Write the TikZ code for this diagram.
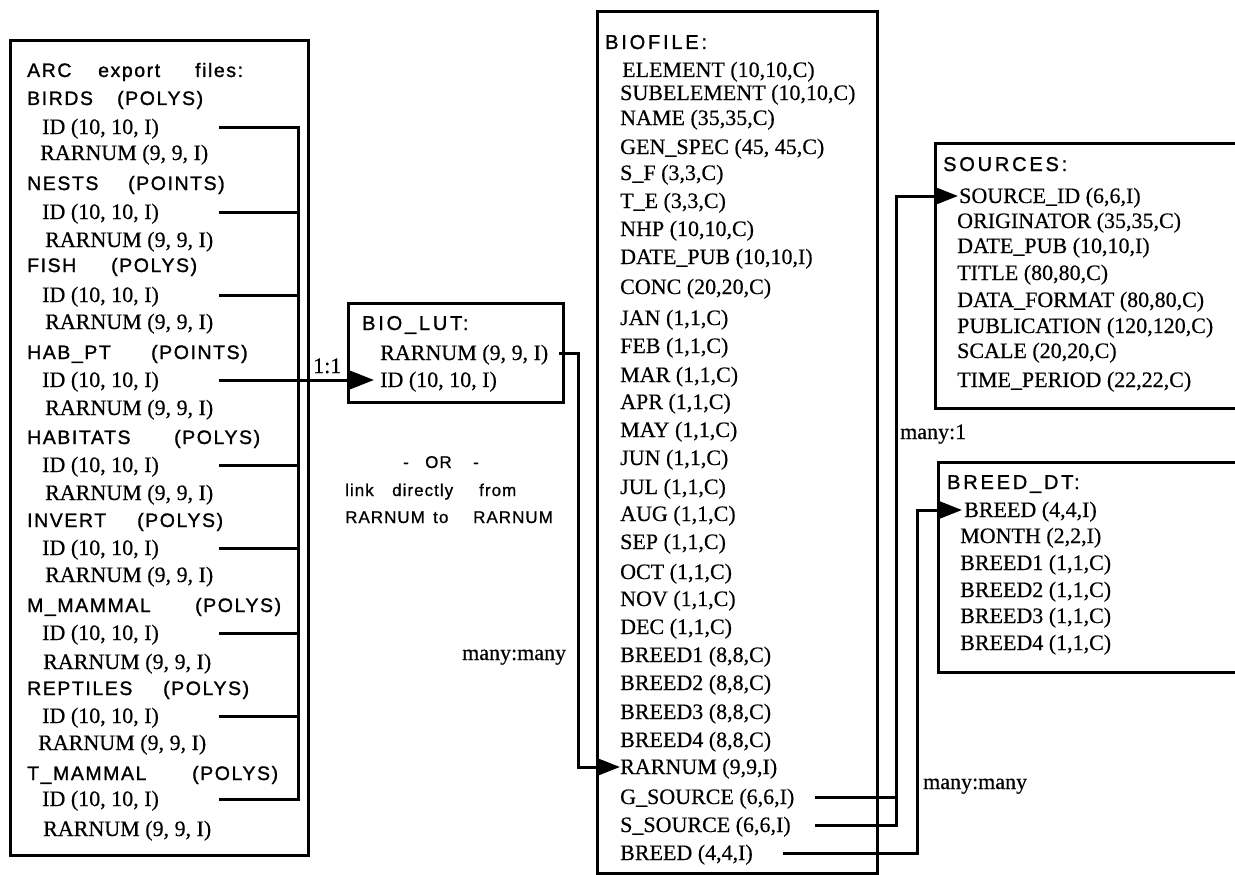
\documentclass[tikz,border=0pt]{standalone}
\usepackage{fontspec}
\setmainfont[FakeBold=0.4]{Liberation Serif}
\newfontfamily\hdrfont[LetterSpace=8,FakeBold=1.2]{Liberation Sans}
\newfontfamily\ttlfont[LetterSpace=14,FakeBold=1.2]{Liberation Sans}
\newfontfamily\orfont[LetterSpace=6,FakeBold=0.8]{Liberation Sans}
\usetikzlibrary{arrows.meta}
\tikzset{
  frame/.style={draw, line width=3pt, inner sep=0pt, outer sep=0pt},
  fld/.style={anchor=west, inner sep=0pt, font=\fontsize{22}{26}\selectfont, text height=14pt, text depth=0pt},
  grp/.style={anchor=west, inner sep=0pt, font=\hdrfont\fontsize{19.5}{22}\selectfont, text height=14pt, text depth=0pt},
  ttl/.style={anchor=west, inner sep=0pt, font=\ttlfont\fontsize{20}{24}\selectfont, text height=14pt, text depth=0pt},
  ortext/.style={anchor=west, inner sep=0pt, font=\orfont\fontsize{17}{20}\selectfont, text height=12pt, text depth=0pt},
  lbl/.style={anchor=west, inner sep=0pt, font=\fontsize{22}{26}\selectfont, text height=14pt, text depth=0pt},
  conn/.style={line width=3pt, line join=miter},
  arr/.style={conn, -{Triangle[length=24pt,width=18pt]}},
}
\newcommand\fieldrow[4]{\node[fld] (#1) at (#2,#3) {#4};}
\newcommand\grouprow[8]{%
  \node[grp] (#1-h) at (27,#2) {\makebox[#3pt][l]{#4}(#5)};
  \node[fld] (#1-id) at (42,#6) {ID (10, 10, I)};
  \node[fld] (#1-rar) at (#8,#7) {RARNUM (9, 9, I)};
}
\begin{document}
\begin{tikzpicture}[x=1pt,y=-1pt]
\useasboundingbox (0,0) rectangle (1235,875);
\fill[white] (0,0) rectangle (1235,875);

% ---------- left box: ARC export files ----------
\node[frame, minimum width=298pt, minimum height=814pt] (arcbox) at (159,448) {};
\node[grp] (arc-t) at (27,70) {\makebox[71pt][l]{ARC}\makebox[97pt][l]{export}files:};
\grouprow{birds}{98}{90}{BIRDS}{POLYS}{127}{153}{40}
\grouprow{nests}{183}{101}{NESTS}{POINTS}{212}{240}{45}
\grouprow{fish}{265}{84}{FISH}{POLYS}{295}{322}{45}
\grouprow{habpt}{352}{124}{HAB\_PT}{POINTS}{380}{408}{45}
\grouprow{habitats}{437}{147}{HABITATS}{POLYS}{465}{493}{45}
\grouprow{invert}{520}{110}{INVERT}{POLYS}{548}{575}{45}
\grouprow{mmammal}{605}{168}{M\_MAMMAL}{POLYS}{633}{662}{43}
\grouprow{reptiles}{688}{136}{REPTILES}{POLYS}{716}{743}{38}
\grouprow{tmammal}{773}{165}{T\_MAMMAL}{POLYS}{799}{829}{43}

\coordinate (lstart) at (219,0);
\coordinate (bus) at (298,0);
\draw[conn] (birds-id -| lstart) -- (birds-id -| bus) -- (tmammal-id -| bus) -- (tmammal-id -| lstart);
\foreach \n in {nests,fish,habitats,invert,mmammal,reptiles}
  \draw[conn] (\n-id -| lstart) -- (\n-id -| bus);

% ---------- BIO_LUT ----------
\node[frame, minimum width=215pt, minimum height=99pt] (lutbox) at (455.5,352.5) {};
\node[ttl] (lut-t) at (362,323) {BIO\_LUT:};
\fieldrow{lut-rar}{380}{353}{RARNUM (9, 9, I)}
\fieldrow{lut-id}{380}{380}{ID (10, 10, I)}
\draw[arr] (habpt-id -| lstart) -- ([xshift=-6pt]lut-id.west);
\node[lbl] (l11) at (313,366) {1:1};

% ---------- OR text ----------
\node[ortext] (or1) at (403,462) {\makebox[22pt][l]{-}\makebox[48pt][l]{OR}-};
\node[ortext] (or2) at (345,490) {\makebox[47pt][l]{link}\makebox[87pt][l]{directly}from};
\node[ortext] (or3) at (345,517) {\makebox[88pt][l]{RARNUM}\makebox[40pt][l]{to}RARNUM};

% ---------- BIOFILE ----------
\node[frame, minimum width=280pt, minimum height=861pt] (biobox) at (737,442.5) {};
\node[ttl] (bio-t) at (605,42) {BIOFILE:};
\fieldrow{bio-elem}{622}{70}{ELEMENT (10,10,C)}
\fieldrow{bio-subel}{620}{93}{SUBELEMENT (10,10,C)}
\fieldrow{bio-name}{620}{118}{NAME (35,35,C)}
\fieldrow{bio-gen}{620}{147}{GEN\_SPEC (45, 45,C)}
\fieldrow{bio-sf}{620}{173}{S\_F (3,3,C)}
\fieldrow{bio-te}{620}{201}{T\_E (3,3,C)}
\fieldrow{bio-nhp}{620}{229}{NHP (10,10,C)}
\fieldrow{bio-date}{620}{257}{DATE\_PUB (10,10,I)}
\fieldrow{bio-conc}{620}{287}{CONC (20,20,C)}
\fieldrow{bio-jan}{620}{318}{JAN (1,1,C)}
\fieldrow{bio-feb}{620}{346}{FEB (1,1,C)}
\fieldrow{bio-mar}{620}{375}{MAR (1,1,C)}
\fieldrow{bio-apr}{620}{402}{APR (1,1,C)}
\fieldrow{bio-may}{620}{430}{MAY (1,1,C)}
\fieldrow{bio-jun}{620}{458}{JUN (1,1,C)}
\fieldrow{bio-jul}{620}{487}{JUL (1,1,C)}
\fieldrow{bio-aug}{620}{514}{AUG (1,1,C)}
\fieldrow{bio-sep}{620}{542}{SEP (1,1,C)}
\fieldrow{bio-oct}{620}{572}{OCT (1,1,C)}
\fieldrow{bio-nov}{620}{599}{NOV (1,1,C)}
\fieldrow{bio-dec}{620}{627}{DEC (1,1,C)}
\fieldrow{bio-b1}{620}{655}{BREED1 (8,8,C)}
\fieldrow{bio-b2}{620}{683}{BREED2 (8,8,C)}
\fieldrow{bio-b3}{620}{712}{BREED3 (8,8,C)}
\fieldrow{bio-b4}{620}{740}{BREED4 (8,8,C)}
\fieldrow{bio-rar}{620}{767}{RARNUM (9,9,I)}
\fieldrow{bio-gsrc}{620}{797}{G\_SOURCE (6,6,I)}
\fieldrow{bio-ssrc}{620}{825}{S\_SOURCE (6,6,I)}
\fieldrow{bio-breed}{620}{853}{BREED (4,4,I)}

\coordinate (lutout) at (559,0);
\coordinate (drop) at (578,0);
\draw[arr] (lut-rar -| lutout) -- (lut-rar -| drop) -- (bio-rar -| drop) -- (bio-rar.west);
\node[lbl] (mm1) at (462,653) {many:many};

% ---------- SOURCES ----------
\node[frame, minimum width=305pt, minimum height=265pt] (srcbox) at (1087.5,275.5) {};
\node[ttl] (src-t) at (943,164) {SOURCES:};
\fieldrow{src-id}{959}{196}{SOURCE\_ID (6,6,I)}
\fieldrow{src-orig}{957}{221}{ORIGINATOR (35,35,C)}
\fieldrow{src-date}{957}{246}{DATE\_PUB (10,10,I)}
\fieldrow{src-title}{957}{273}{TITLE (80,80,C)}
\fieldrow{src-fmt}{957}{300}{DATA\_FORMAT (80,80,C)}
\fieldrow{src-pub}{957}{326}{PUBLICATION (120,120,C)}
\fieldrow{src-scale}{957}{351}{SCALE (20,20,C)}
\fieldrow{src-time}{957}{380}{TIME\_PERIOD (22,22,C)}

\coordinate (gout) at (815,0);
\coordinate (srcbus) at (896,0);
\draw[arr] (bio-gsrc -| gout) -- (bio-gsrc -| srcbus) -- (src-id -| srcbus) -- ([xshift=-1pt]src-id.west);
\draw[conn] (bio-ssrc -| gout) -- (bio-ssrc -| srcbus) -- (bio-gsrc -| srcbus);
\node[lbl] (m1) at (900,432) {many:1};

% ---------- BREED_DT ----------
\node[frame, minimum width=302pt, minimum height=210pt] (bdtbox) at (1089,567) {};
\node[ttl] (bdt-t) at (947,482) {BREED\_DT:};
\fieldrow{bdt-breed}{964}{510}{BREED (4,4,I)}
\fieldrow{bdt-month}{960}{536}{MONTH (2,2,I)}
\fieldrow{bdt-b1}{960}{563}{BREED1 (1,1,C)}
\fieldrow{bdt-b2}{960}{590}{BREED2 (1,1,C)}
\fieldrow{bdt-b3}{960}{616}{BREED3 (1,1,C)}
\fieldrow{bdt-b4}{960}{643}{BREED4 (1,1,C)}

\coordinate (bout) at (783,0);
\coordinate (brbus) at (917,0);
\draw[arr] (bio-breed -| bout) -- (bio-breed -| brbus) -- (bdt-breed -| brbus) -- ([xshift=-2pt]bdt-breed.west);
\node[lbl] (mm2) at (923,782) {many:many};
\end{tikzpicture}
\end{document}
